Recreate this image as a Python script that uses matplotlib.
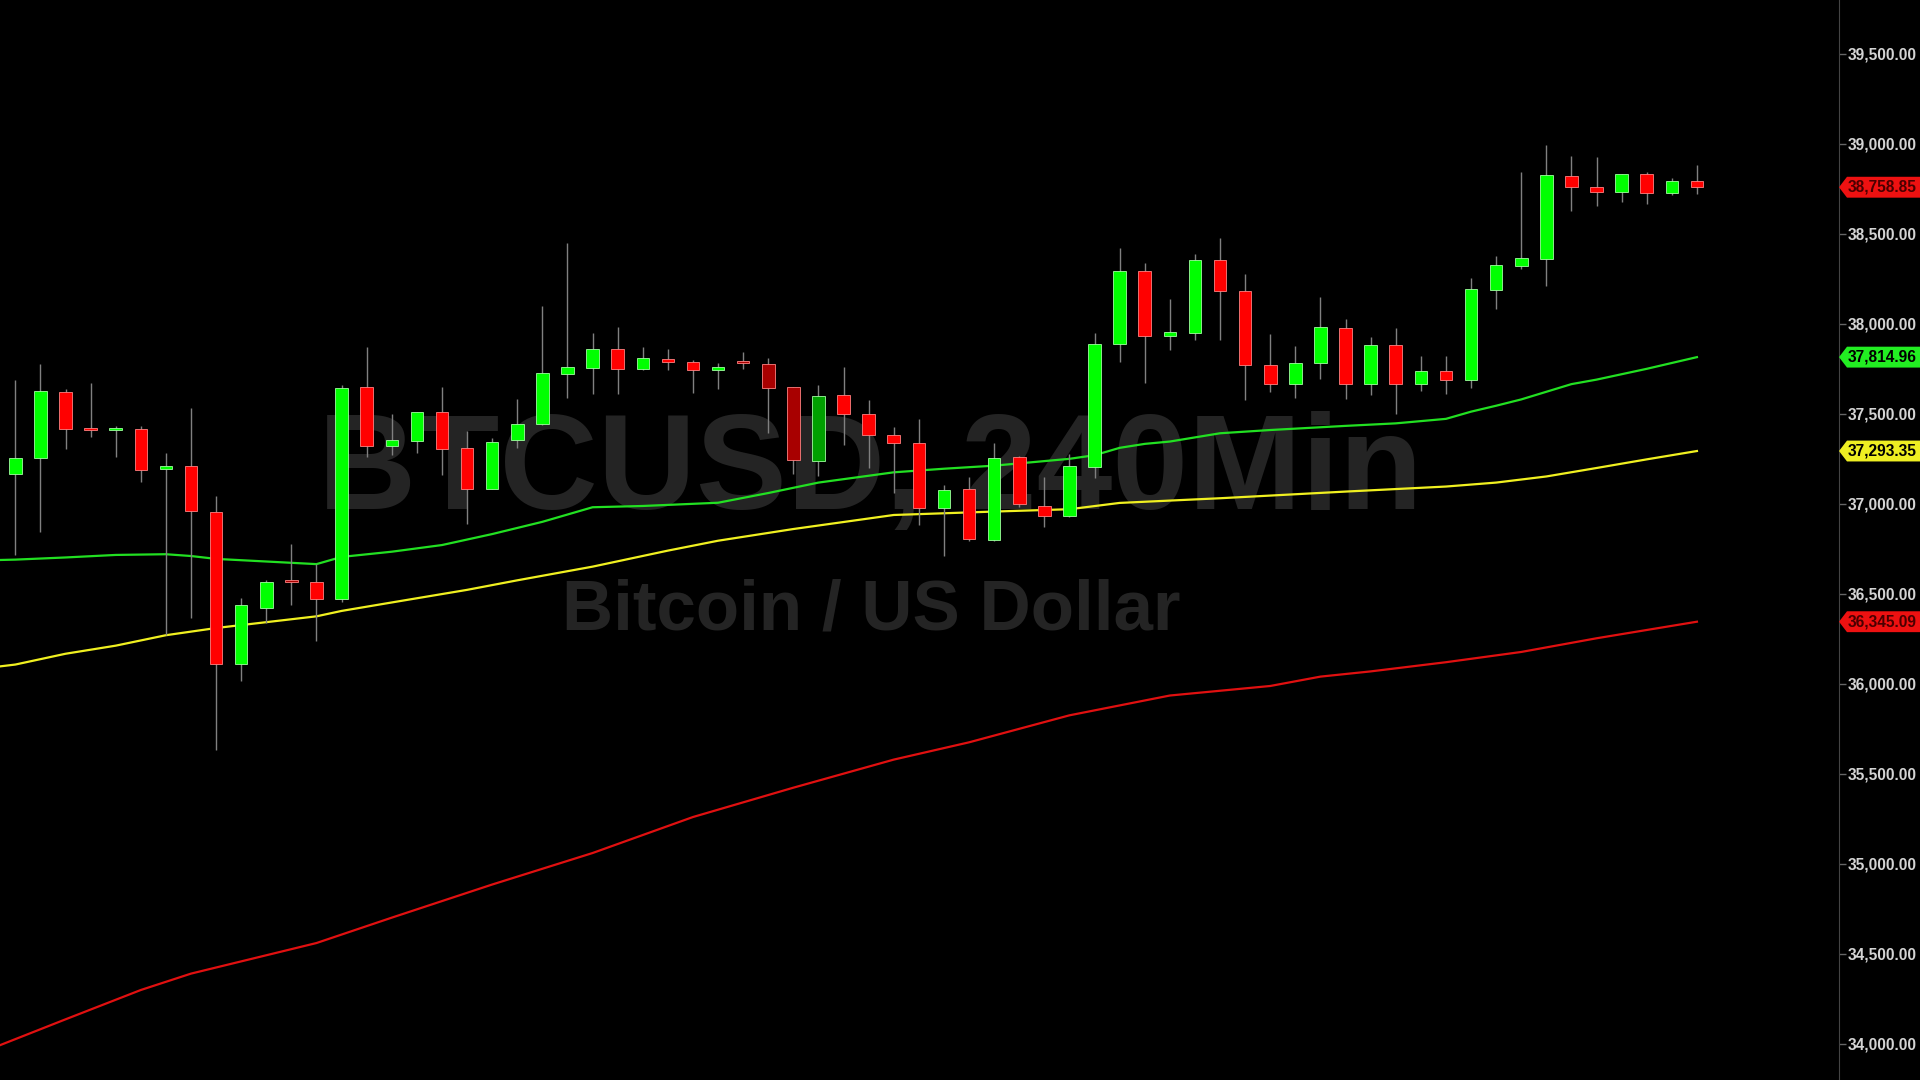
import matplotlib
matplotlib.use('Agg')
import matplotlib.pyplot as plt
from matplotlib.patches import Polygon
from matplotlib.transforms import blended_transform_factory
from matplotlib.ticker import FuncFormatter
import numpy as np

# BTCUSD 240 min candles
opens = [37163, 37255, 37620, 37414, 37410, 37418, 37192, 37208, 36952, 36111,
         36424, 36570, 36563, 36474, 37647, 37320, 37349, 37510, 37310, 37082,
         37355, 37445, 37723, 37757, 37862, 37749, 37805, 37786, 37742, 37785,
         37779, 37647, 37238, 37603, 37499, 37381, 37338, 36975, 37081, 36799,
         37258, 36988, 36932, 37207, 37890, 38294, 37932, 37951, 38353, 38184,
         37771, 37668, 37781, 37977, 37668, 37881, 37664, 37736, 37686, 38186,
         38322, 38362, 38820, 38762, 38733, 38835, 38729, 38796]
closes = [37254, 37625, 37413, 37408, 37418, 37186, 37208, 36958, 36109, 36438,
          36567, 36565, 36474, 37643, 37319, 37353, 37508, 37307, 37082, 37346,
          37445, 37725, 37760, 37862, 37749, 37810, 37787, 37742, 37762, 37781,
          37642, 37244, 37599, 37499, 37381, 37338, 36975, 37075, 36805, 37257,
          36997, 36934, 37210, 37890, 38294, 37932, 37957, 38355, 38184, 37771,
          37668, 37783, 37985, 37668, 37881, 37668, 37740, 37686, 38196, 38327,
          38368, 38825, 38760, 38733, 38831, 38725, 38794, 38758.85]
highs = [37690, 37779, 37640, 37672, 37433, 37433, 37283, 37532, 37041, 36478,
         36575, 36779, 36668, 37661, 37873, 37501, 37512, 37651, 37407, 37364,
         37581, 38099, 38451, 37947, 37981, 37871, 37859, 37797, 37784, 37842,
         37810, 37650, 37658, 37760, 37575, 37429, 37471, 37103, 37149, 37340,
         37266, 37149, 37275, 37947, 38420, 38340, 38138, 38386, 38475, 38275,
         37942, 37877, 38149, 38025, 37927, 37975, 37822, 37822, 38253, 38377,
         38842, 38996, 38935, 38925, 38835, 38842, 38809, 38883]
lows = [36716, 36841, 37307, 37371, 37260, 37119, 36269, 36363, 35630, 36018,
        36339, 36438, 36236, 36454, 37258, 37272, 37281, 37160, 36886, 37080,
        37310, 37440, 37590, 37608, 37608, 37745, 37744, 37614, 37638, 37751,
        37392, 37166, 37155, 37327, 37197, 37062, 36882, 36710, 36795, 36795,
        36981, 36873, 36928, 37142, 37786, 37673, 37857, 37910, 37910, 37577,
        37623, 37586, 37692, 37581, 37607, 37497, 37629, 37610, 37642, 38083,
        38303, 38212, 38625, 38657, 38679, 38664, 38714, 38722]

# moving averages (bar index, value)
ma_green_x = [-0.6, 0, 2, 4, 6, 7, 8, 12, 13, 15, 17, 19, 21, 23, 25, 28, 30, 32, 35, 37,
              39, 42, 43, 44, 45, 46, 48, 50, 53, 55, 57, 58, 59, 60, 62, 63, 65, 67]
ma_green = [36688, 36690, 36702, 36716, 36720, 36710, 36694, 36665, 36705, 36734, 36771,
            36832, 36900, 36981, 36988, 37006, 37060, 37118, 37175, 37195, 37212, 37250,
            37270, 37311, 37333, 37346, 37392, 37410, 37433, 37447, 37472, 37512, 37545,
            37580, 37665, 37690, 37750, 37814.96]
ma_yellow_x = [-0.6, 0, 2, 4, 6, 8, 12, 13, 15, 18, 20, 23, 26, 28, 31, 35, 39, 42, 44,
               48, 53, 57, 59, 61, 63, 65, 67]
ma_yellow = [36097, 36107, 36167, 36212, 36270, 36310, 36375, 36405, 36452, 36522, 36575,
             36651, 36740, 36795, 36860, 36938, 36957, 36970, 37005, 37031, 37068, 37096,
             37118, 37152, 37199, 37247, 37293.35]
ma_red_x = [-0.6, 2, 5, 7, 12, 15, 19, 23, 27, 31, 35, 38, 42, 44, 46, 50, 52, 54, 57,
            60, 63, 67]
ma_red = [33993, 34136, 34299, 34390, 34560, 34701, 34885, 35060, 35260, 35423, 35579,
          35675, 35825, 35880, 35935, 35988, 36040, 36069, 36120, 36177, 36253, 36345.09]

price_ticks = np.arange(34000, 39501, 500)
dim_bars = [11, 29, 30, 31, 32]

plt.rcParams['font.family'] = ['Liberation Sans', 'DejaVu Sans']

fig = plt.figure(figsize=(19.2, 10.8), dpi=100, facecolor='black')
ax = fig.add_axes([0, 0, 1839 / 1920, 1])
ax.set_facecolor('black')

# watermark
ax.text(0.473, 0.5287, 'BTCUSD, 240Min', transform=ax.transAxes, ha='center',
        va='baseline', fontsize=98, fontweight='bold', color='#242424', zorder=0.5)
ax.text(0.474, 0.4167, 'Bitcoin / US Dollar', transform=ax.transAxes, ha='center',
        va='baseline', fontsize=51, fontweight='bold', color='#242424', zorder=0.5)

# moving averages
ax.plot(ma_red_x, ma_red, color='#e01010', lw=1.6, zorder=2)
ax.plot(ma_yellow_x, ma_yellow, color='#f0f020', lw=1.6, zorder=2)
ax.plot(ma_green_x, ma_green, color='#22e022', lw=1.6, zorder=2)

# candles
x = np.arange(len(opens))
ax.vlines(x, lows, highs, color='#808080', lw=1.0, zorder=3)
for i in x:
    o, c = opens[i], closes[i]
    up = c >= o
    if i in dim_bars:
        fc = '#00a000' if up else '#a80000'
    else:
        fc = '#00ff00' if up else '#ff0000'
    ec = '#a0ffa0' if up else '#ff8080'
    h = max(abs(c - o), 12)
    ax.bar(i, h, bottom=min(o, c), width=0.5, color=fc, edgecolor=ec, lw=0.6, zorder=4)

ax.set_xlim(-0.61, 72.66)
ax.set_ylim(33799, 39799)

# right price axis
for s in ['top', 'left', 'bottom']:
    ax.spines[s].set_visible(False)
ax.spines['right'].set_color('#444444')
ax.set_xticks([])
ax.yaxis.tick_right()
ax.set_yticks(price_ticks)
ax.yaxis.set_major_formatter(FuncFormatter(lambda v, p: f'{v:,.2f}'))
ax.tick_params(axis='y', direction='out', length=5, width=1, color='#666666',
               labelcolor='#d4d4d4', labelsize=11.2, pad=1)
for lbl in ax.get_yticklabels():
    lbl.set_fontweight('bold')

# price tags on the axis
tags = [(closes[-1], '#ee1111', '#4a0000'),
        (ma_green[-1], '#22ee22', '#000000'),
        (ma_yellow[-1], '#eeee22', '#000000'),
        (ma_red[-1], '#ee1111', '#4a0000')]
trans = blended_transform_factory(ax.transAxes, ax.transData)
hh = 58
for val, bg, tc in tags:
    pts = [(1.0, val), (1.0 + 8 / 1839, val + hh), (1.05, val + hh),
           (1.05, val - hh), (1.0 + 8 / 1839, val - hh)]
    ax.add_patch(Polygon(pts, closed=True, transform=trans, facecolor=bg,
                         edgecolor='none', clip_on=False, zorder=10))
    ax.text(1.0237, val, f'{val:,.2f}', transform=trans, ha='center', va='center',
            fontsize=11.2, fontweight='bold', color=tc, clip_on=False, zorder=11)

fig.savefig('out.png', dpi=100, facecolor='black')
